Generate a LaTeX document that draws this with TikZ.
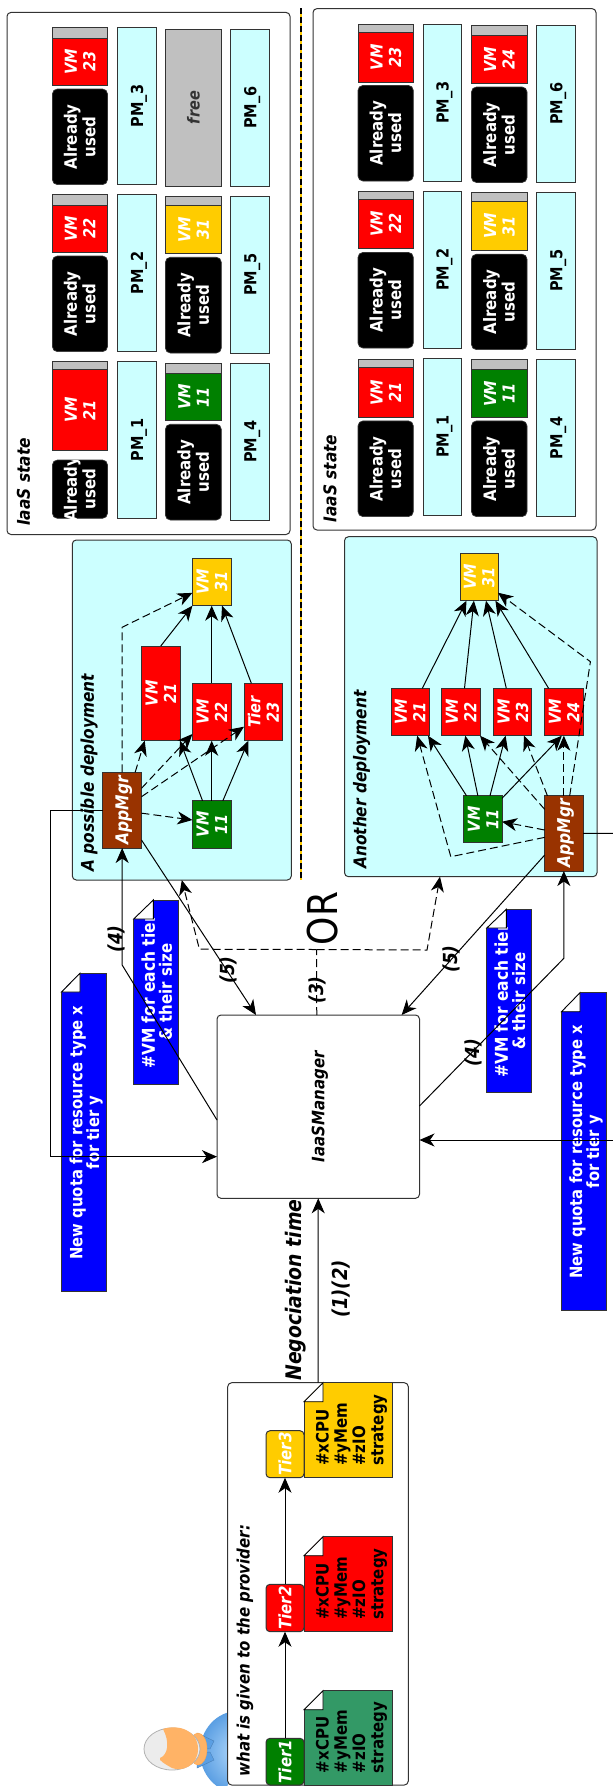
\documentclass[tikz,border=0pt]{standalone}
\usepackage{fontspec}
\setmainfont{DejaVu Sans}
\usetikzlibrary{arrows.meta,calc}
\definecolor{cyanbg}{HTML}{CCFFFF}
\definecolor{greyb}{HTML}{C0C0C0}
\definecolor{goldb}{HTML}{FFCC00}
\definecolor{greenb}{HTML}{008000}
\definecolor{brownb}{HTML}{993300}
\definecolor{seagr}{HTML}{339966}
\definecolor{edgec}{HTML}{333333}
\definecolor{skyin}{HTML}{B4DAFC}
\definecolor{skyout}{HTML}{5B9FE3}
\definecolor{facec}{HTML}{FFB366}
\newcommand\fsz[2]{\fontsize{#1}{#2}\selectfont}
\newcommand\upb{\fsz{14.5}{16.2}\bfseries}
\newcommand\itb{\fsz{14.5}{16.2}\bfseries\itshape}
\newcommand\tst[1]{\scalebox{1}[1.14]{#1}}
\newcommand\rtc[1]{\makebox[0pt][c]{\rotatebox{90}{\raisebox{0pt}[\dimexpr\height+5pt\relax][\depth]{\tst{\begin{tabular}{@{}c@{}}#1\end{tabular}}}}}}
\newcommand\rtl[1]{\makebox[0pt][c]{\rotatebox{90}{\raisebox{0pt}[\dimexpr\height+6pt\relax][\depth]{\tst{\begin{tabular}{@{}l@{}}#1\end{tabular}}}}}}
\newcommand\bx[7]{%
  \pgfmathsetmacro\bxw{#5-(#3)}\pgfmathsetmacro\bxh{#6-(#4)}%
  \pgfmathsetmacro\bxcx{(#3+#5)/2}\pgfmathsetmacro\bxcy{(#4+#6)/2}%
  \node[#2,minimum width=\bxw pt,minimum height=\bxh pt] (#1) at (\bxcx,\bxcy) {\rtc{#7}};}
% note: name, x1,y1,x2,y2, foldx, foldy, colour, text
\newcommand\notebx[9]{%
  \fill[#8] (#6,#3) -- (#4,#3) -- (#4,#5) -- (#2,#5) -- (#2,#7) -- cycle;
  \pgfmathsetmacro\bxcx{(#2+#4)/2}\pgfmathsetmacro\bxcy{(#3+#5)/2}%
  \node[text=white,inner sep=0pt] (#1) at (\bxcx,\bxcy) {\rtc{#9}};
  \draw[edgec,line width=.9pt] (#6,#3) -- (#4,#3) -- (#4,#5) -- (#2,#5) -- (#2,#7);
  \fill[white] (#2,#7) -- (#6,#3) -- (#6,#7) -- cycle;
  \draw[black,line width=.9pt] (#2,#7) -- (#6,#3) -- (#6,#7) -- cycle;}
% tier file: name, y1, y2, colour
\newcommand\tierfile[4]{%
  \pgfmathsetmacro\foldy{#2+19}\pgfmathsetmacro\txty{#3-11.7}%
  \fill[#4] (323,#2) -- (392.7,#2) -- (392.7,#3) -- (304,#3) -- (304,\foldy) -- cycle;
  \draw[edgec,line width=.9pt] (323,#2) -- (392.7,#2) -- (392.7,#3) -- (304,#3) -- (304,\foldy);
  \fill[white] (304,\foldy) -- (323,#2) -- (323,\foldy) -- cycle;
  \draw[black,line width=.9pt] (304,\foldy) -- (323,#2) -- (323,\foldy) -- cycle;
  \node[font=\fsz{15}{16}\bfseries,text=black,inner sep=0pt,anchor=south] (#1) at (349.3,\txty)
    {\rtl{\#xCPU\\\#yMem\\\#zIO\\strategy}};}
\tikzset{
  base/.style={draw=edgec,line width=1pt,inner sep=0pt,outer sep=0pt},
  vmred/.style={base,fill=red,text=white,font=\itb},
  vmgold/.style={base,fill=goldb,text=white,font=\itb},
  vmgreen/.style={base,fill=greenb,text=white,font=\itb},
  appbox/.style={base,fill=brownb,text=white,font=\fsz{15.5}{16.2}\bfseries\itshape},
  usedbox/.style={draw=edgec,line width=.7pt,fill=black,text=white,font=\fsz{15}{16.2}\bfseries,rounded corners=5pt,inner sep=0pt,outer sep=0pt},
  pmbox/.style={base,fill=cyanbg,text=black,font=\upb},
  greybar/.style={base,fill=greyb},
  freebox/.style={base,fill=greyb,text=edgec,font=\itb},
  panel/.style={draw=edgec,line width=1pt,rounded corners=4pt,inner sep=0pt,outer sep=0pt},
  tierbox/.style={draw=edgec,line width=1pt,rounded corners=4pt,inner sep=0pt,outer sep=0pt,text=white,font=\fsz{15}{16}\bfseries\itshape},
  titletxt/.style={rotate=90,anchor=west,inner sep=0pt,font=\fsz{15.4}{18}\bfseries\itshape},
  numlbl/.style={rotate=90,inner sep=0pt,font=\fsz{17}{20}\bfseries\itshape},
  arr/.style={-{Stealth[length=15pt,width=13pt,inset=4.5pt]},line width=1pt,black},
  darr/.style={arr,dash pattern=on 8pt off 4pt},
  plain/.style={line width=1pt,black},
}
\begin{document}
\begin{tikzpicture}[x=1pt,y=-1pt]
\useasboundingbox (0,0) rectangle (613,1786);
\fill[white] (0,0) rectangle (613,1786);

% ---------- IaaS state, left
\bx{lstate}{panel,fill=white}{7}{12.4}{290}{534.5}{}
\node[titletxt] (lstatet) at (23.5,526) {\tst{IaaS state}};
\bx{lg23}{greybar}{52.4}{27.5}{107.5}{38}{}
\bx{lv23}{vmred}{52.4}{38}{107.5}{85.4}{VM\\23}
\bx{lu23}{usedbox}{52.4}{89}{107.5}{184.6}{Already\\used}
\bx{lg22}{greybar}{52.4}{194.6}{107.5}{205}{}
\bx{lv22}{vmred}{52.4}{205}{107.5}{252.4}{VM\\22}
\bx{lu22}{usedbox}{52.4}{256}{107.5}{351.6}{Already\\used}
\bx{lg21}{greybar}{52.4}{361.6}{107.5}{369.5}{}
\bx{lv21}{vmred}{52.4}{369.5}{107.5}{450.8}{VM\\21}
\bx{lu21}{usedbox}{52.4}{460}{107.5}{518.3}{}
\begin{scope}
\clip (52.4,460) rectangle (107.5,518.3);
\node[font=\fsz{15}{16.2}\bfseries,text=white,inner sep=0pt] (lu21t) at (80,489.2) {\rtc{Already\\used}};
\end{scope}
\bx{lp3}{pmbox}{117.3}{27.5}{156.4}{184.3}{PM\_3}
\bx{lp2}{pmbox}{117.3}{194.6}{156.4}{351.3}{PM\_2}
\bx{lp1}{pmbox}{117.3}{361.6}{156.4}{518.3}{PM\_1}
\bx{lfree}{freebox}{165.4}{29}{221.3}{186}{free}
\bx{lg31}{greybar}{165.4}{196.3}{221.3}{205.6}{}
\bx{lv31}{vmgold}{165.4}{205.6}{221.3}{253.8}{VM\\31}
\bx{lu31}{usedbox}{165.4}{257.3}{221.3}{353}{Already\\used}
\bx{lg11}{greybar}{165.4}{363}{221.3}{373.3}{}
\bx{lv11}{vmgreen}{165.4}{373.3}{221.3}{420.9}{VM\\11}
\bx{lu11}{usedbox}{165.4}{424.3}{221.3}{520}{Already\\used}
\bx{lp6}{pmbox}{230.7}{29}{269.8}{186}{PM\_6}
\bx{lp5}{pmbox}{230.7}{196.3}{269.8}{353}{PM\_5}
\bx{lp4}{pmbox}{230.7}{363}{269.8}{520}{PM\_4}

% ---------- IaaS state, right
\bx{rstate}{panel,fill=white}{313}{8.6}{596}{530}{}
\node[titletxt] (rstatet) at (330,522.5) {\tst{IaaS state}};
\bx{rg23}{greybar}{358}{24}{413.3}{32.4}{}
\bx{rv23}{vmred}{358}{32.4}{413.3}{82}{VM\\23}
\bx{ru23}{usedbox}{358}{85.4}{413.3}{181}{Already\\used}
\bx{rg22}{greybar}{358}{191}{413.3}{199}{}
\bx{rv22}{vmred}{358}{199}{413.3}{248.7}{VM\\22}
\bx{ru22}{usedbox}{358}{252.4}{413.3}{348}{Already\\used}
\bx{rg21}{greybar}{358}{359.6}{413.3}{367.5}{}
\bx{rv21}{vmred}{358}{367.5}{413.3}{417.4}{VM\\21}
\bx{ru21}{usedbox}{358}{420.9}{413.3}{516.6}{Already\\used}
\bx{rp3}{pmbox}{423}{24}{461.8}{181}{PM\_3}
\bx{rp2}{pmbox}{423}{191}{461.8}{348}{PM\_2}
\bx{rp1}{pmbox}{423}{358}{461.8}{515}{PM\_1}
\bx{rg24}{greybar}{471.5}{25.5}{527}{35.8}{}
\bx{rv24}{vmred}{471.5}{35.8}{527}{83.3}{VM\\24}
\bx{ru24}{usedbox}{471.5}{87}{527}{182.5}{Already\\used}
\bx{rg31}{greybar}{471.5}{192.5}{527}{201.8}{}
\bx{rv31}{vmgold}{471.5}{201.8}{527}{250.4}{VM\\31}
\bx{ru31}{usedbox}{471.5}{254.2}{527}{349.6}{Already\\used}
\bx{rg11}{greybar}{471.5}{359.6}{527}{369.5}{}
\bx{rv11}{vmgreen}{471.5}{369.5}{527}{417.4}{VM\\11}
\bx{ru11}{usedbox}{471.5}{420.9}{527}{516.6}{Already\\used}
\bx{rp6}{pmbox}{536.8}{25.5}{575.6}{182}{PM\_6}
\bx{rp5}{pmbox}{536.8}{192.5}{575.6}{349}{PM\_5}
\bx{rp4}{pmbox}{536.8}{359.6}{575.6}{516}{PM\_4}

% ---------- divider
\coordinate (divt) at (301,8);
\coordinate (divb) at (301,880);
\draw[goldb,line width=2.6pt] (divt) -- (divb);
\draw[black,line width=1.8pt,dash pattern=on 6pt off 3pt] (divt) -- (divb);

% ---------- deployments
\bx{ldep}{panel,fill=cyanbg}{72.3}{540}{291.3}{880}{}
\node[titletxt] (ldept) at (89,871.7) {\tst{A possible deployment}};
\bx{rdep}{panel,fill=cyanbg}{344.5}{536.7}{597}{876.7}{}
\node[titletxt] (rdept) at (361.7,869) {\tst{Another deployment}};

\bx{l31}{vmgold}{192.4}{558}{231}{605.7}{VM\\31}
\bx{l21}{vmred}{141.5}{646}{180}{740.7}{VM\\21}
\bx{l22}{vmred}{192.4}{683.3}{231}{740.7}{VM\\22}
\bx{l23}{vmred}{244}{683.3}{282.7}{740.7}{Tier\\23}
\bx{l11}{vmgreen}{192.4}{800.7}{231}{848}{VM\\11}
\bx{la}{appbox}{102.8}{772.3}{141.5}{848}{AppMgr}

\bx{r31}{vmgold}{460}{553.3}{498}{600.7}{VM\\31}
\bx{r21}{vmred}{391}{688.3}{429}{735.7}{VM\\21}
\bx{r22}{vmred}{441.8}{688.3}{480}{735.7}{VM\\22}
\bx{r23}{vmred}{493.4}{688.3}{531.8}{735.7}{VM\\23}
\bx{r24}{vmred}{544.7}{688.3}{583}{735.7}{VM\\24}
\bx{r11}{vmgreen}{463.7}{795.7}{502}{842.7}{VM\\11}
\bx{ra}{appbox}{544.7}{795.7}{583}{871}{AppMgr}

% ---------- notes
\notebx{nv1}{133.7}{900}{178.7}{1084}{153.3}{919}{blue}{\fsz{15.5}{15.8}\bfseries \#VM for each tier\\\fsz{15}{15.8}\bfseries \& their size}
\notebx{nq1}{61.4}{973.3}{106.4}{1291.7}{80}{992}{blue}{\fsz{14.8}{16.7}\bfseries New quota for resource type x\\\fsz{14.8}{16.7}\bfseries for tier y}
\notebx{nv2}{486.8}{909.3}{531.8}{1092.7}{506.3}{928}{blue}{\fsz{15.5}{15.8}\bfseries \#VM for each tier\\\fsz{15}{15.8}\bfseries \& their size}
\notebx{nq2}{561.5}{992.7}{606}{1310.7}{580}{1011.7}{blue}{\fsz{14.8}{16.7}\bfseries New quota for resource type x\\\fsz{14.8}{16.7}\bfseries for tier y}

% ---------- manager
\bx{iaas}{panel,fill=white,font=\fsz{15}{16}\bfseries\itshape}{217}{1015}{419.5}{1198.3}{IaaSManager}

% ---------- person
\begin{scope}
\clip (130,1700) rectangle (227.7,1786);
\shade[inner color=skyin,outer color=skyout] (238,1752) ellipse (38 and 41);
\fill[skyout,draw=skyout!80!black,line width=.4pt] (197,1733) -- (214,1741) -- (210,1749) -- (197,1748) -- cycle;
\fill[skyout,draw=skyout!80!black,line width=.4pt] (197,1768) -- (214,1760) -- (210,1752) -- (197,1753) -- cycle;
\fill[facec,draw=orange!70!white,line width=.4pt] (198,1749) ellipse (9 and 16);
\fill[gray!15,draw=gray!60,line width=.8pt] (172,1749) ellipse (28 and 21);
\fill[facec] (163,1729) .. controls (178,1724) and (198,1730) .. (198,1749) .. controls (198,1766) and (182,1772) .. (172,1768) .. controls (165,1764) and (158,1760) .. (160,1758) .. controls (168,1755) and (170,1742) .. (163,1729) -- cycle;
\end{scope}

% ---------- provider box
\bx{prov}{panel,fill=white}{227.7}{1382.7}{408.3}{1785}{}
\node[titletxt,font=\fsz{15}{18}\bfseries\itshape] (provt) at (245,1776.7) {\tst{what is given to the provider:}};
\tierfile{f3}{1382.7}{1477.7}{goldb}
\tierfile{f2}{1536.7}{1631.7}{red}
\tierfile{f1}{1690.7}{1785}{seagr}
\bx{t3}{tierbox,fill=goldb}{266}{1430.7}{304}{1477.7}{Tier3}
\bx{t2}{tierbox,fill=red}{266}{1584.3}{304}{1631.7}{Tier2}
\bx{t1}{tierbox,fill=greenb}{266}{1738.3}{304}{1785}{Tier1}
\draw[arr] (t1.north) -- (t2.south);
\draw[arr] (t2.north) -- (t3.south);

% ---------- connectors left
\coordinate (lbend31) at (122,627.3);
\draw[darr] (la.north) -- (lbend31) -- ([yshift=-11pt]l31.west);
\draw[darr] ([xshift=13pt]la.north) -- ([xshift=-16pt]l21.south);
\draw[darr] ([yshift=21.85pt]la.east) -- ([yshift=-22pt]l22.west);
\draw[darr] ([yshift=13.45pt]la.east) -- ([yshift=-14.7pt]l23.west);
\draw[darr] ([yshift=-3pt]la.east) -- ([yshift=4.35pt]l11.west);
\draw[arr] ([xshift=-9.2pt]l11.north) -- (l21.south east);
\draw[arr] (l11.north) -- (l22.south);
\draw[arr] ([xshift=11.2pt]l11.north) -- ([xshift=-15pt]l23.south);
\draw[arr] (l21.north) -- (l31.south west);
\draw[arr] (l22.north) -- (l31.south);
\draw[arr] ([xshift=-12pt]l23.north) -- ([xshift=10.3pt]l31.south);
\coordinate (lq1) at (50,810.15);
\coordinate (lq2) at (50,1156.65);
\draw[arr] (la.west) -- (lq1) -- (lq2) -- ([yshift=-50pt]iaas.west);
\coordinate (l4b) at (122.15,965);
\draw[arr] ([yshift=-13.35pt]iaas.west) -- (l4b) -- (la.south);
\draw[arr] ([yshift=-29.85pt]la.east) -- ([xshift=-62.25pt]iaas.north);

% ---------- connectors right
\draw[arr] ([xshift=12.3pt]r21.north) -- ([xshift=-12.5pt]r31.south);
\draw[arr] ([xshift=3.6pt]r22.north) -- ([xshift=-5.1pt]r31.south);
\draw[arr] ([xshift=-6.3pt]r23.north) -- ([xshift=7pt]r31.south);
\draw[arr] ([xshift=-15.25pt]r24.north) -- ([xshift=16.4pt]r31.south);
\coordinate (rbend31) at (590.4,661.7);
\draw[darr] ([xshift=5.85pt]ra.north) -- (rbend31) -- ([yshift=-15.7pt]r31.east);
\draw[arr] ([xshift=-16.35pt]r11.north) -- ([xshift=18pt]r21.south);
\draw[arr] ([xshift=-5pt]r11.north) -- ([xshift=4.4pt]r22.south);
\draw[arr] ([xshift=7.15pt]r11.north) -- ([xshift=-7pt]r23.south);
\draw[arr] ([yshift=-2.6pt]r11.north east) -- ([xshift=-2pt]r24.south);
\coordinate (rbend21) at (450.8,856.7);
\draw[darr] ([yshift=-4pt]ra.west) -- (rbend21) -- ([xshift=7.2pt]r21.south);
\draw[darr] ([yshift=24pt]ra.west) -- (r22.south east);
\draw[darr] ([xshift=-16.45pt]ra.north) -- ([xshift=11.4pt]r23.south);
\draw[darr] (ra.north) -- (r24.south);
\draw[darr] ([yshift=3.35pt]ra.west) -- ([yshift=-2.5pt]r11.east);
\draw[arr] ([yshift=-21.65pt]ra.west) -- ([xshift=83.35pt]iaas.north);
\coordinate (r4b) at (563.85,958.3);
\draw[arr] ([yshift=.65pt]iaas.east) -- (r4b) -- (ra.south);
\coordinate (rq1) at (613,833.35);
\draw[plain] (ra.east) -- (rq1);
\coordinate (rq2) at (613,1140);
\draw[arr] (rq2) -- ([yshift=-33.35pt]iaas.east);

% ---------- dashed (3)
\coordinate (dj) at (316.7,949.5);
\coordinate (djl) at (199.4,949.2);
\coordinate (djr) at (427,950);
\draw[plain,dash pattern=on 8pt off 4pt] ([xshift=-1.5pt]iaas.north) -- (dj);
\draw[darr] (dj) -- (djl) -- (ldep.south);
\draw[darr] (dj) -- (djr) -- ([xshift=-30.75pt]rdep.south);

% ---------- (1)(2)
\draw[arr] (prov.north) -- (iaas.south);

% ---------- labels
\node[numlbl] (lb4l) at (116.5,939) {\tst{(4)}};
\node[numlbl] (lb5l) at (228.7,970) {\tst{(5)}};
\node[numlbl] (lb3) at (317.5,990) {\tst{(3)}};
\node[numlbl] (lb5r) at (451.6,959) {\tst{(5)}};
\node[numlbl] (lb4r) at (473,1052.7) {\tst{(4)}};
\node[numlbl,font=\fsz{18}{20}\bfseries\itshape] (lb12) at (341,1289) {\tst{(1)(2)}};
\node[rotate=90,inner sep=0pt,font=\fsz{18.8}{20}\bfseries\itshape] (neg) at (295.5,1290) {\tst{Negociation time}};
\node[rotate=90,inner sep=0pt,font=\fsz{36}{40}] (ortxt) at (322.6,918.5) {\tst{OR}};
\end{tikzpicture}
\end{document}
